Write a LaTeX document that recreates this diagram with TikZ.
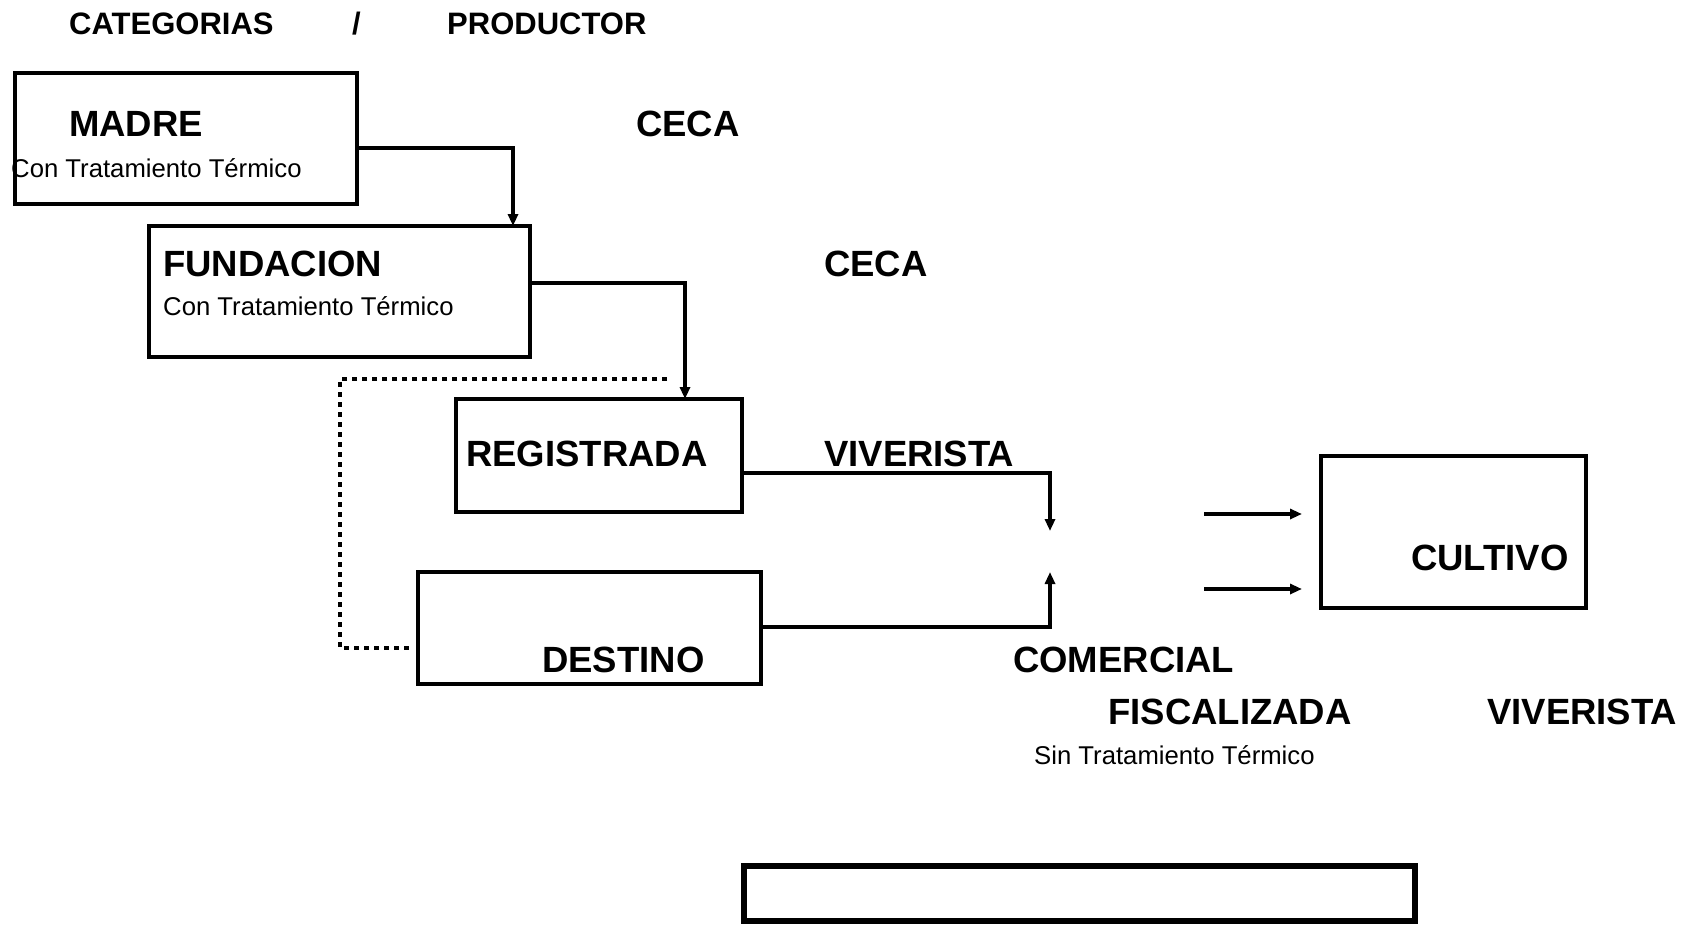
\documentclass[tikz,border=0pt]{standalone}
\usepackage{fontspec}
\setmainfont{Liberation Sans}
\usetikzlibrary{arrows.meta}
\begin{document}
\begin{tikzpicture}[x=1pt,y=-1pt,
 box/.style={draw,line width=4.5pt,rectangle,inner sep=0pt,outer sep=0pt,anchor=north west},
 big/.style={font=\fontsize{36.5}{40}\selectfont\bfseries,inner sep=0pt,anchor=base west},
 head/.style={font=\fontsize{31}{35}\selectfont\bfseries,inner sep=0pt,anchor=base west},
 small/.style={font=\fontsize{25.7}{30}\selectfont,inner sep=0pt,anchor=base west},
 conn/.style={line width=4pt,-{Triangle[width=10pt,length=12pt]}},
 dots/.style={line width=4pt,dash pattern=on 5pt off 5pt}
]
\useasboundingbox (0,0) rectangle (1692,926);
% header
\node[head] (hcat) at (69,34.5) {CATEGORIAS};
\node[head] (hsl) at (352,34.5) {/};
\node[head] (hprod) at (447,34.5) {PRODUCTOR};
% texts
\node[big] (tmadre) at (69,136) {MADRE};
\node[small] (cmadre) at (11,177) {Con Tratamiento Térmico};
\node[big] (tfund) at (163,276) {FUNDACION};
\node[small] (cfund) at (163,315) {Con Tratamiento Térmico};
\node[big] (ceca1) at (636,136) {CECA};
\node[big] (ceca2) at (824,276) {CECA};
\node[big] (treg) at (466,466) {REGISTRADA};
\node[big] (viv1) at (824,466) {VIVERISTA};
\node[big] (tdest) at (542,672) {DESTINO};
\node[big] (comer) at (1013,672) {COMERCIAL};
\node[big] (fisc) at (1108,724) {FISCALIZADA};
\node[big] (viv2) at (1487,724) {VIVERISTA};
\node[small] (sin) at (1034,764) {Sin Tratamiento Térmico};
\node[big] (tcult) at (1411,570) {CULTIVO};
% boxes
\node[box,minimum width=342pt,minimum height=131pt] (madre) at (15,73) {};
\node[box,minimum width=381pt,minimum height=131pt] (fund) at (149,226) {};
\node[box,minimum width=286pt,minimum height=113pt] (reg) at (456,399) {};
\node[box,minimum width=343pt,minimum height=112pt] (dest) at (418,572) {};
\node[box,minimum width=265pt,minimum height=152pt] (cult) at (1321,456) {};
\node[box,line width=6pt,minimum width=671pt,minimum height=55pt] (bottom) at (744,866) {};
% coordinates
\coordinate (j1) at (1050,531);
\coordinate (j2) at (1050,572);
\coordinate (d1) at (667,379);
\coordinate (d2) at (340,379);
\coordinate (a1s) at (1204,514);
\coordinate (a1e) at (1302,514);
\coordinate (a2s) at (1204,589);
\coordinate (a2e) at (1302,589);
% connectors
\draw[conn] ([yshift=-75pt]madre.north east) -| ([xshift=364pt]fund.north west);
\draw[conn] ([yshift=-57pt]fund.north east) -| ([xshift=229pt]reg.north west);
\draw[conn] ([yshift=-74pt]reg.north east) -| (j1);
\draw[conn] ([yshift=-55pt]dest.north east) -| (j2);
\draw[dots] (d1) -- (d2) |- ([xshift=-8pt,yshift=-76pt]dest.north west);
\draw[conn] (a1s) -- (a1e);
\draw[conn] (a2s) -- (a2e);
\end{tikzpicture}
\end{document}
